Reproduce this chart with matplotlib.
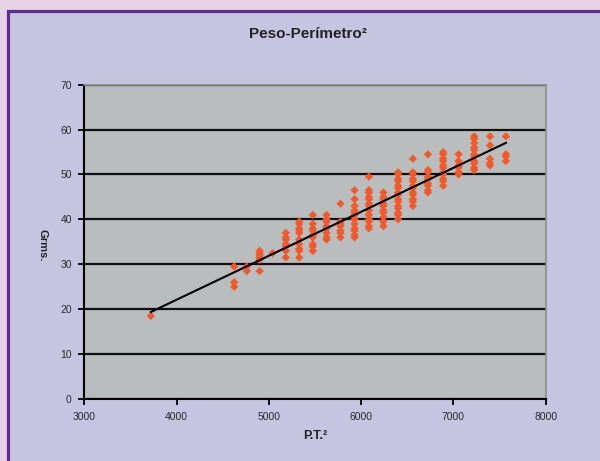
import matplotlib.pyplot as plt
import matplotlib.patches as mpatches
import numpy as np

# Perímetro torácico (P.T.) de cada columna y pesos observados
pt = [61, 68, 69, 70, 71, 72, 73, 74, 75, 76, 77, 78, 79, 80, 81, 82, 83, 84, 85, 86, 87]
peso_por_pt = [
    [18.5],
    [29.5, 26, 25],
    [29.5, 28.5],
    [33, 32.5, 32, 31.5, 31, 28.5],
    [32.5],
    [37, 36, 35.5, 34.5, 34, 33, 31.5],
    [39.5, 39, 38, 37.5, 37, 35.5, 34.5, 33.5, 33, 31.5],
    [41, 39, 38, 37.5, 36.5, 36, 34.5, 34, 33],
    [41, 40, 39.5, 38.5, 38, 37, 36, 35.5],
    [43.5, 39.5, 39, 38.5, 37.5, 37, 36],
    [46.5, 44.5, 43, 42, 41.5, 41, 40, 39, 38, 37.5, 36.5, 36],
    [49.5, 46.5, 46, 45, 44.5, 43.5, 43, 42, 41, 40, 39.5, 38.5, 38],
    [46, 45, 44.5, 43.5, 43, 42, 41.5, 40.5, 39.5, 38.5],
    [50.5, 50, 49, 48.5, 47.5, 47, 46, 45.5, 44.5, 44, 43, 42.5, 41.5, 41, 40],
    [53.5, 50.5, 50, 49, 48.5, 47.5, 47, 46, 45.5, 44.5, 44, 43],
    [54.5, 51, 50.5, 49.5, 49, 48, 47.5, 46.5, 46],
    [55, 54.5, 53.5, 53, 52, 51.5, 50.5, 50, 49, 48.5, 47.5],
    [54.5, 53, 52, 51.5, 50.5, 50],
    [58.5, 58, 57, 56, 55.5, 54.5, 54, 53, 52.5, 51.5, 51],
    [58.5, 56.5, 53.5, 52.5, 52],
    [58.5, 54.5, 54, 53],
]
x_ticks = [3000, 4000, 5000, 6000, 7000, 8000]
y_ticks = [0, 10, 20, 30, 40, 50, 60, 70]

# aplanar en x (P.T.^2) e y (peso)
x = np.array([p ** 2 for p, col in zip(pt, peso_por_pt) for _ in col], dtype=float)
y = np.array([v for col in peso_por_pt for v in col])

plt.rcParams['font.family'] = ['Liberation Sans', 'DejaVu Sans']

W, H = 600, 461
fig = plt.figure(figsize=(W / 100, H / 100), dpi=100)
fig.patch.set_facecolor('#e7d2e6')

# marco violeta y fondo lavanda
fondo = mpatches.Rectangle((7.5 / W, -0.05), 1.1, 1 - 11.5 / H + 0.05,
                           transform=fig.transFigure, facecolor='#c7c4e2',
                           edgecolor='#5b2e8e', linewidth=2.3, zorder=-10)
fig.patches.append(fondo)

ax = fig.add_axes([84.3 / W, 1 - 399 / H, (545.7 - 84.3) / W, (399 - 84.7) / H])
ax.set_zorder(1)
ax.set_facecolor('#b9bdbd')

ax.scatter(x, y, marker='D', s=18, color='#f2592a', edgecolors='none', zorder=3)

# línea de tendencia (mínimos cuadrados)
m, b = np.polyfit(x, y, 1)
xl = np.array([x.min(), x.max()])
ax.plot(xl, m * xl + b, color='black', linewidth=1.5, zorder=4)

ax.set_xlim(3000, 8000)
ax.set_ylim(0, 70)
ax.set_xticks(x_ticks)
ax.set_yticks(y_ticks)
ax.yaxis.grid(True, color='#111111', linewidth=1.6)
ax.set_axisbelow(True)

for s in ['top', 'right']:
    ax.spines[s].set_color('#8c8c8c')
    ax.spines[s].set_linewidth(1.2)
for s in ['left', 'bottom']:
    ax.spines[s].set_color('black')
    ax.spines[s].set_linewidth(1.5)
ax.tick_params(axis='both', direction='out', length=4, width=1.3, color='black',
               labelsize=7.5, labelcolor='#2a2a2a', pad=5)

ax.set_xlabel('P.T.²', fontsize=9, fontweight='bold', color='#222222', labelpad=6)
fig.text(43 / W, 1 - 245 / H, 'Grms.', rotation=-90, fontsize=8, fontweight='bold',
         color='#222222', ha='center', va='center')
fig.text(308 / W, 1 - 34 / H, 'Peso-Perímetro²', fontsize=11, fontweight='bold',
         color='#222222', ha='center', va='center')

fig.savefig('out.png', dpi=100, facecolor=fig.get_facecolor())
